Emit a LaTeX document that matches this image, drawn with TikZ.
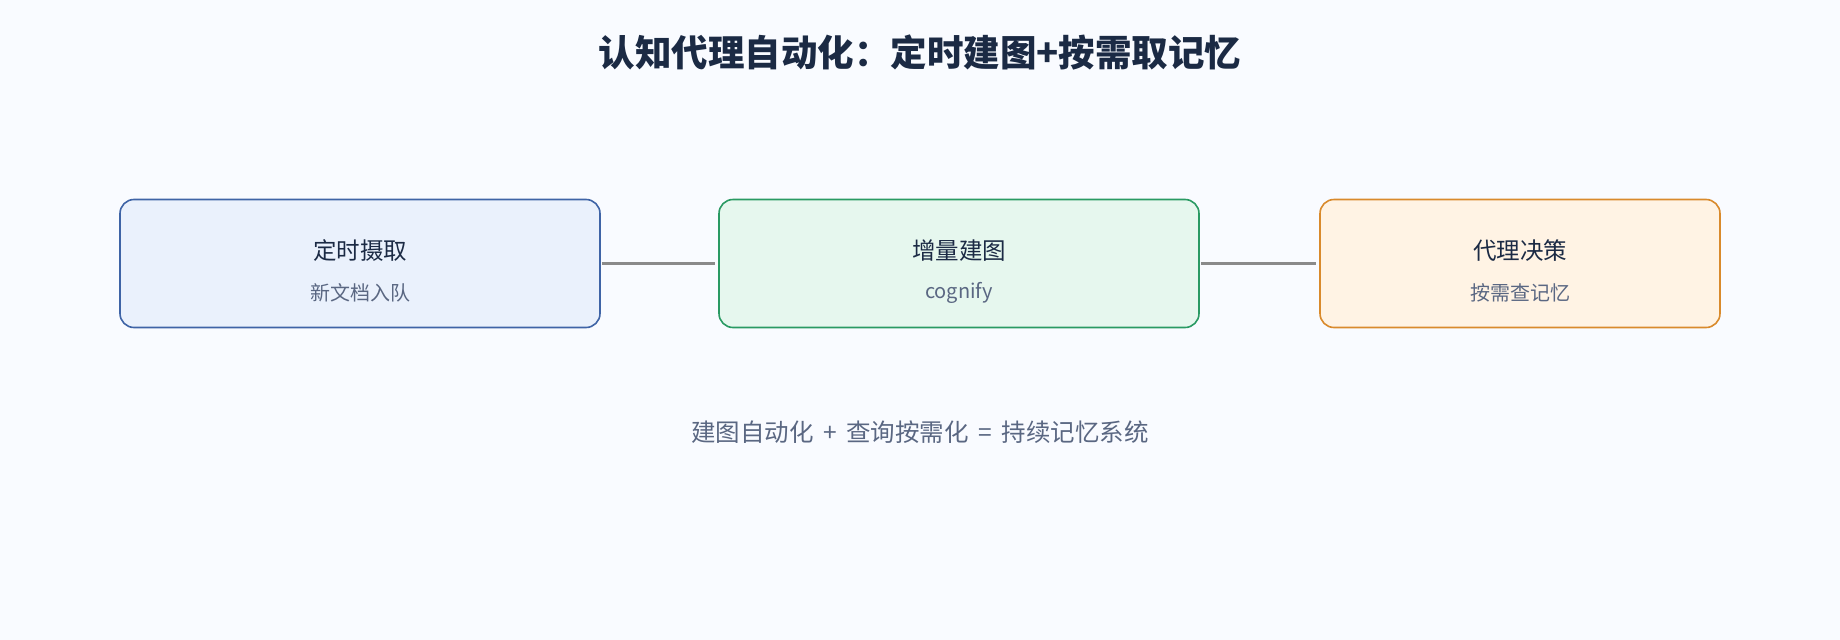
\documentclass[tikz,border=0pt]{standalone}
\usepackage{fontspec}
\setmainfont{Noto Sans CJK SC}
\definecolor{bg}{HTML}{F9FBFF}
\definecolor{tdark}{HTML}{1B2A44}
\definecolor{tsub}{HTML}{5A6782}
\definecolor{fa}{HTML}{EAF1FC}\definecolor{sa}{HTML}{3F64A6}
\definecolor{fb}{HTML}{E6F7EE}\definecolor{sb}{HTML}{2A9A63}
\definecolor{fc}{HTML}{FFF3E4}\definecolor{sc}{HTML}{D98A2C}
\definecolor{ln}{HTML}{8A8A8A}
\begin{document}
\begin{tikzpicture}[x=1pt,y=-1pt,
 box/.style={draw,line width=1.6pt,rounded corners=14pt,minimum height=128pt,inner sep=0pt},
 ttl/.style={font=\fontsize{23.5}{26}\selectfont,text=tdark},
 sub/.style={font=\fontsize{20}{23}\selectfont,text=tsub},
 conn/.style={draw=ln,line width=3.2pt}]
\fill[bg] (0,0) rectangle (1840,640);
\useasboundingbox (0,0) rectangle (1840,640);
\node[font=\bfseries\fontsize{36.5}{40}\selectfont,text=tdark] (title) at (920,52) {认知代理自动化：定时建图+按需取记忆};
\node[box,fill=fa,draw=sa,minimum width=480pt] (a) at (360,263.5) {};
\node[box,fill=fb,draw=sb,minimum width=480pt] (b) at (959,263.5) {};
\node[box,fill=fc,draw=sc,minimum width=400pt] (c) at (1520,263.5) {};
\node[ttl] (at) at (360,251) {定时摄取};
\node[sub] (as) at (360,293) {新文档入队};
\node[ttl] (bt) at (959,251) {增量建图};
\node[sub] (bs) at (959,293) {cognify};
\node[ttl] (ct) at (1520,251) {代理决策};
\node[sub] (cs) at (1520,293) {按需查记忆};
\draw[conn] ([xshift=1pt]a.east) -- ([xshift=-3pt]b.west);
\draw[conn] ([xshift=1pt]b.east) -- ([xshift=-3pt]c.west);
\node[font=\fontsize{24.5}{28}\selectfont,text=tsub] (foot) at (920,432) {建图自动化 \,+\, 查询按需化 \,=\, 持续记忆系统};
\end{tikzpicture}
\end{document}
